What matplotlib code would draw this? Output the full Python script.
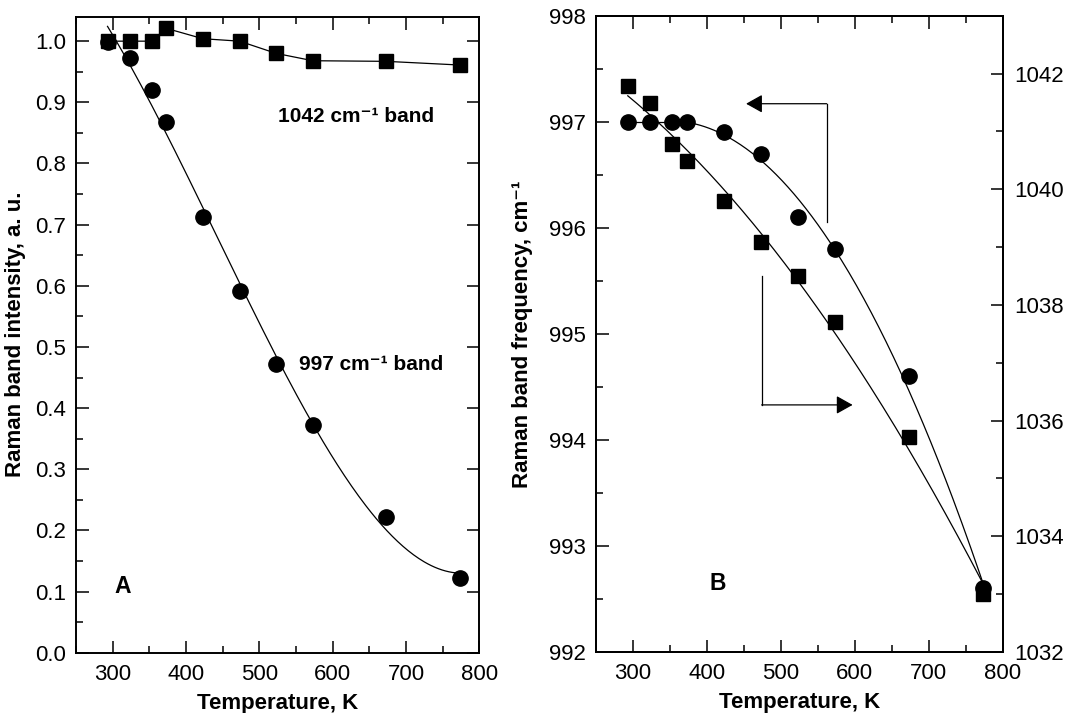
import numpy as np
import matplotlib
matplotlib.use("Agg")
import matplotlib.pyplot as plt
from matplotlib.ticker import MultipleLocator, FormatStrFormatter

plt.rcParams['font.family'] = ['Liberation Sans', 'DejaVu Sans']

# ---------------- data ----------------
temperature = [293, 323, 353, 373, 423, 473, 523, 573, 673, 773]

# Panel A: relative Raman band intensities
intensity_1042 = [1.000, 1.000, 1.000, 1.021, 1.004, 1.000, 0.980, 0.968, 0.967, 0.961]
intensity_997 = [0.999, 0.973, 0.920, 0.867, 0.713, 0.592, 0.472, 0.373, 0.222, 0.122]

# Panel B: Raman band frequencies (cm-1)
freq_997 = [997.0, 997.0, 997.0, 997.0, 996.9, 996.7, 996.1, 995.8, 994.6, 992.6]
freq_1042 = [1041.78, 1041.49, 1040.78, 1040.48, 1039.80, 1039.09, 1038.50, 1037.71, 1035.72, 1033.01]

T = np.array(temperature, float)

fig = plt.figure(figsize=(10.65, 7.13), dpi=100)
axA = fig.add_axes([76/1065, 1-652.7/713, (479.3-76)/1065, (652.7-16.7)/713])
axB = fig.add_axes([596/1065, 1-652/713, (1002.7-596)/1065, (652-15.7)/713])

lw = 0.9
tick_fs = 16
lab_fs = 16
ann_fs = 15

def style(ax):
    for s in ax.spines.values():
        s.set_linewidth(1.4)
    ax.tick_params(which='both', direction='in', top=True, width=1.1,
                   labelsize=tick_fs)
    ax.tick_params(which='major', length=9)
    ax.tick_params(which='minor', length=5)
    ax.tick_params(axis='x', pad=8)
    ax.tick_params(axis='y', pad=7)

# ---------------- Panel A ----------------
axA.plot(T, intensity_1042, '-', color='black', lw=lw, marker='s', ms=9.5,
         mfc='black', mec='black', zorder=3)
c = np.polyfit(T, intensity_997, 3)
tt = np.linspace(T[0], T[-1], 200)
axA.plot(tt, np.polyval(c, tt), '-', color='black', lw=lw, zorder=2)
axA.plot(T, intensity_997, 'o', color='black', ms=11, zorder=4)

axA.set_xlim(250, 800)
axA.set_ylim(0, 1.04)
axA.xaxis.set_major_locator(MultipleLocator(100))
axA.xaxis.set_minor_locator(MultipleLocator(50))
axA.yaxis.set_major_locator(MultipleLocator(0.1))
axA.yaxis.set_minor_locator(MultipleLocator(0.05))
axA.yaxis.set_major_formatter(FormatStrFormatter('%.1f'))
style(axA)
axA.tick_params(right=True)
axA.set_xlabel('Temperature, K', fontsize=lab_fs, fontweight='bold')
axA.xaxis.set_label_coords(0.5, -0.063)
axA.set_ylabel('Raman band intensity, a. u.', fontsize=lab_fs, fontweight='bold')
axA.yaxis.set_label_coords(-0.124, 0.5)

axA.text(525, 0.877, '1042 cm⁻¹ band', fontsize=ann_fs, fontweight='bold',
         va='center', ha='left')
axA.text(554, 0.471, '997 cm⁻¹ band', fontsize=ann_fs, fontweight='bold',
         va='center', ha='left')
axA.text(313, 0.108, 'A', fontsize=16.5, fontweight='bold', va='center', ha='center')

# ---------------- Panel B ----------------
axB2 = axB.twinx()
axB2.set_position(axB.get_position())

# circles: flat segment then quadratic trend
axB.plot(T[:4], freq_997[:4], '-', color='black', lw=lw, zorder=2)
c2 = np.polyfit(T[3:], freq_997[3:], 2)
tt2 = np.linspace(T[3], T[-1], 200)
axB.plot(tt2, np.polyval(c2, tt2), '-', color='black', lw=lw, zorder=2)
axB.plot(T, freq_997, 'o', color='black', ms=11, zorder=4)

c3 = np.polyfit(T, freq_1042, 2)
axB2.plot(tt, np.polyval(c3, tt), '-', color='black', lw=lw, zorder=2)
axB2.plot(T, freq_1042, 's', color='black', ms=9.5, zorder=3)

axB.set_xlim(250, 800)
axB.set_ylim(992, 998)
axB2.set_ylim(1032, 1043)
axB.xaxis.set_major_locator(MultipleLocator(100))
axB.xaxis.set_minor_locator(MultipleLocator(50))
axB.yaxis.set_major_locator(MultipleLocator(1))
axB.yaxis.set_minor_locator(MultipleLocator(0.5))
axB2.yaxis.set_major_locator(MultipleLocator(2))
axB2.yaxis.set_minor_locator(MultipleLocator(1))
style(axB)
axB.tick_params(right=False)
for s in axB2.spines.values():
    s.set_linewidth(1.4)
axB2.tick_params(which='both', direction='in', width=1.1, labelsize=tick_fs, pad=8)
axB2.tick_params(which='major', length=9)
axB2.tick_params(which='minor', length=5)

axB.set_xlabel('Temperature, K', fontsize=lab_fs, fontweight='bold')
axB.xaxis.set_label_coords(0.5, -0.063)
axB.set_ylabel('Raman band frequency, cm⁻¹', fontsize=lab_fs, fontweight='bold')
axB.yaxis.set_label_coords(-0.155, 0.5)
axB.text(415, 992.65, 'B', fontsize=16.5, fontweight='bold', va='center', ha='center')

# arrows indicating axis assignment
astyle = dict(arrowstyle='-|>,head_length=0.5,head_width=0.28', mutation_scale=20,
              color='black', lw=lw, shrinkA=0, shrinkB=0)
axB.plot([562, 562], [996.05, 997.17], '-', color='black', lw=lw)
axB.annotate('', xy=(453, 997.17), xytext=(562, 997.17), arrowprops=astyle)
axB.plot([474, 474], [994.33, 995.55], '-', color='black', lw=lw)
axB.annotate('', xy=(597, 994.33), xytext=(474, 994.33), arrowprops=astyle)

fig.savefig('out.png', dpi=100)
